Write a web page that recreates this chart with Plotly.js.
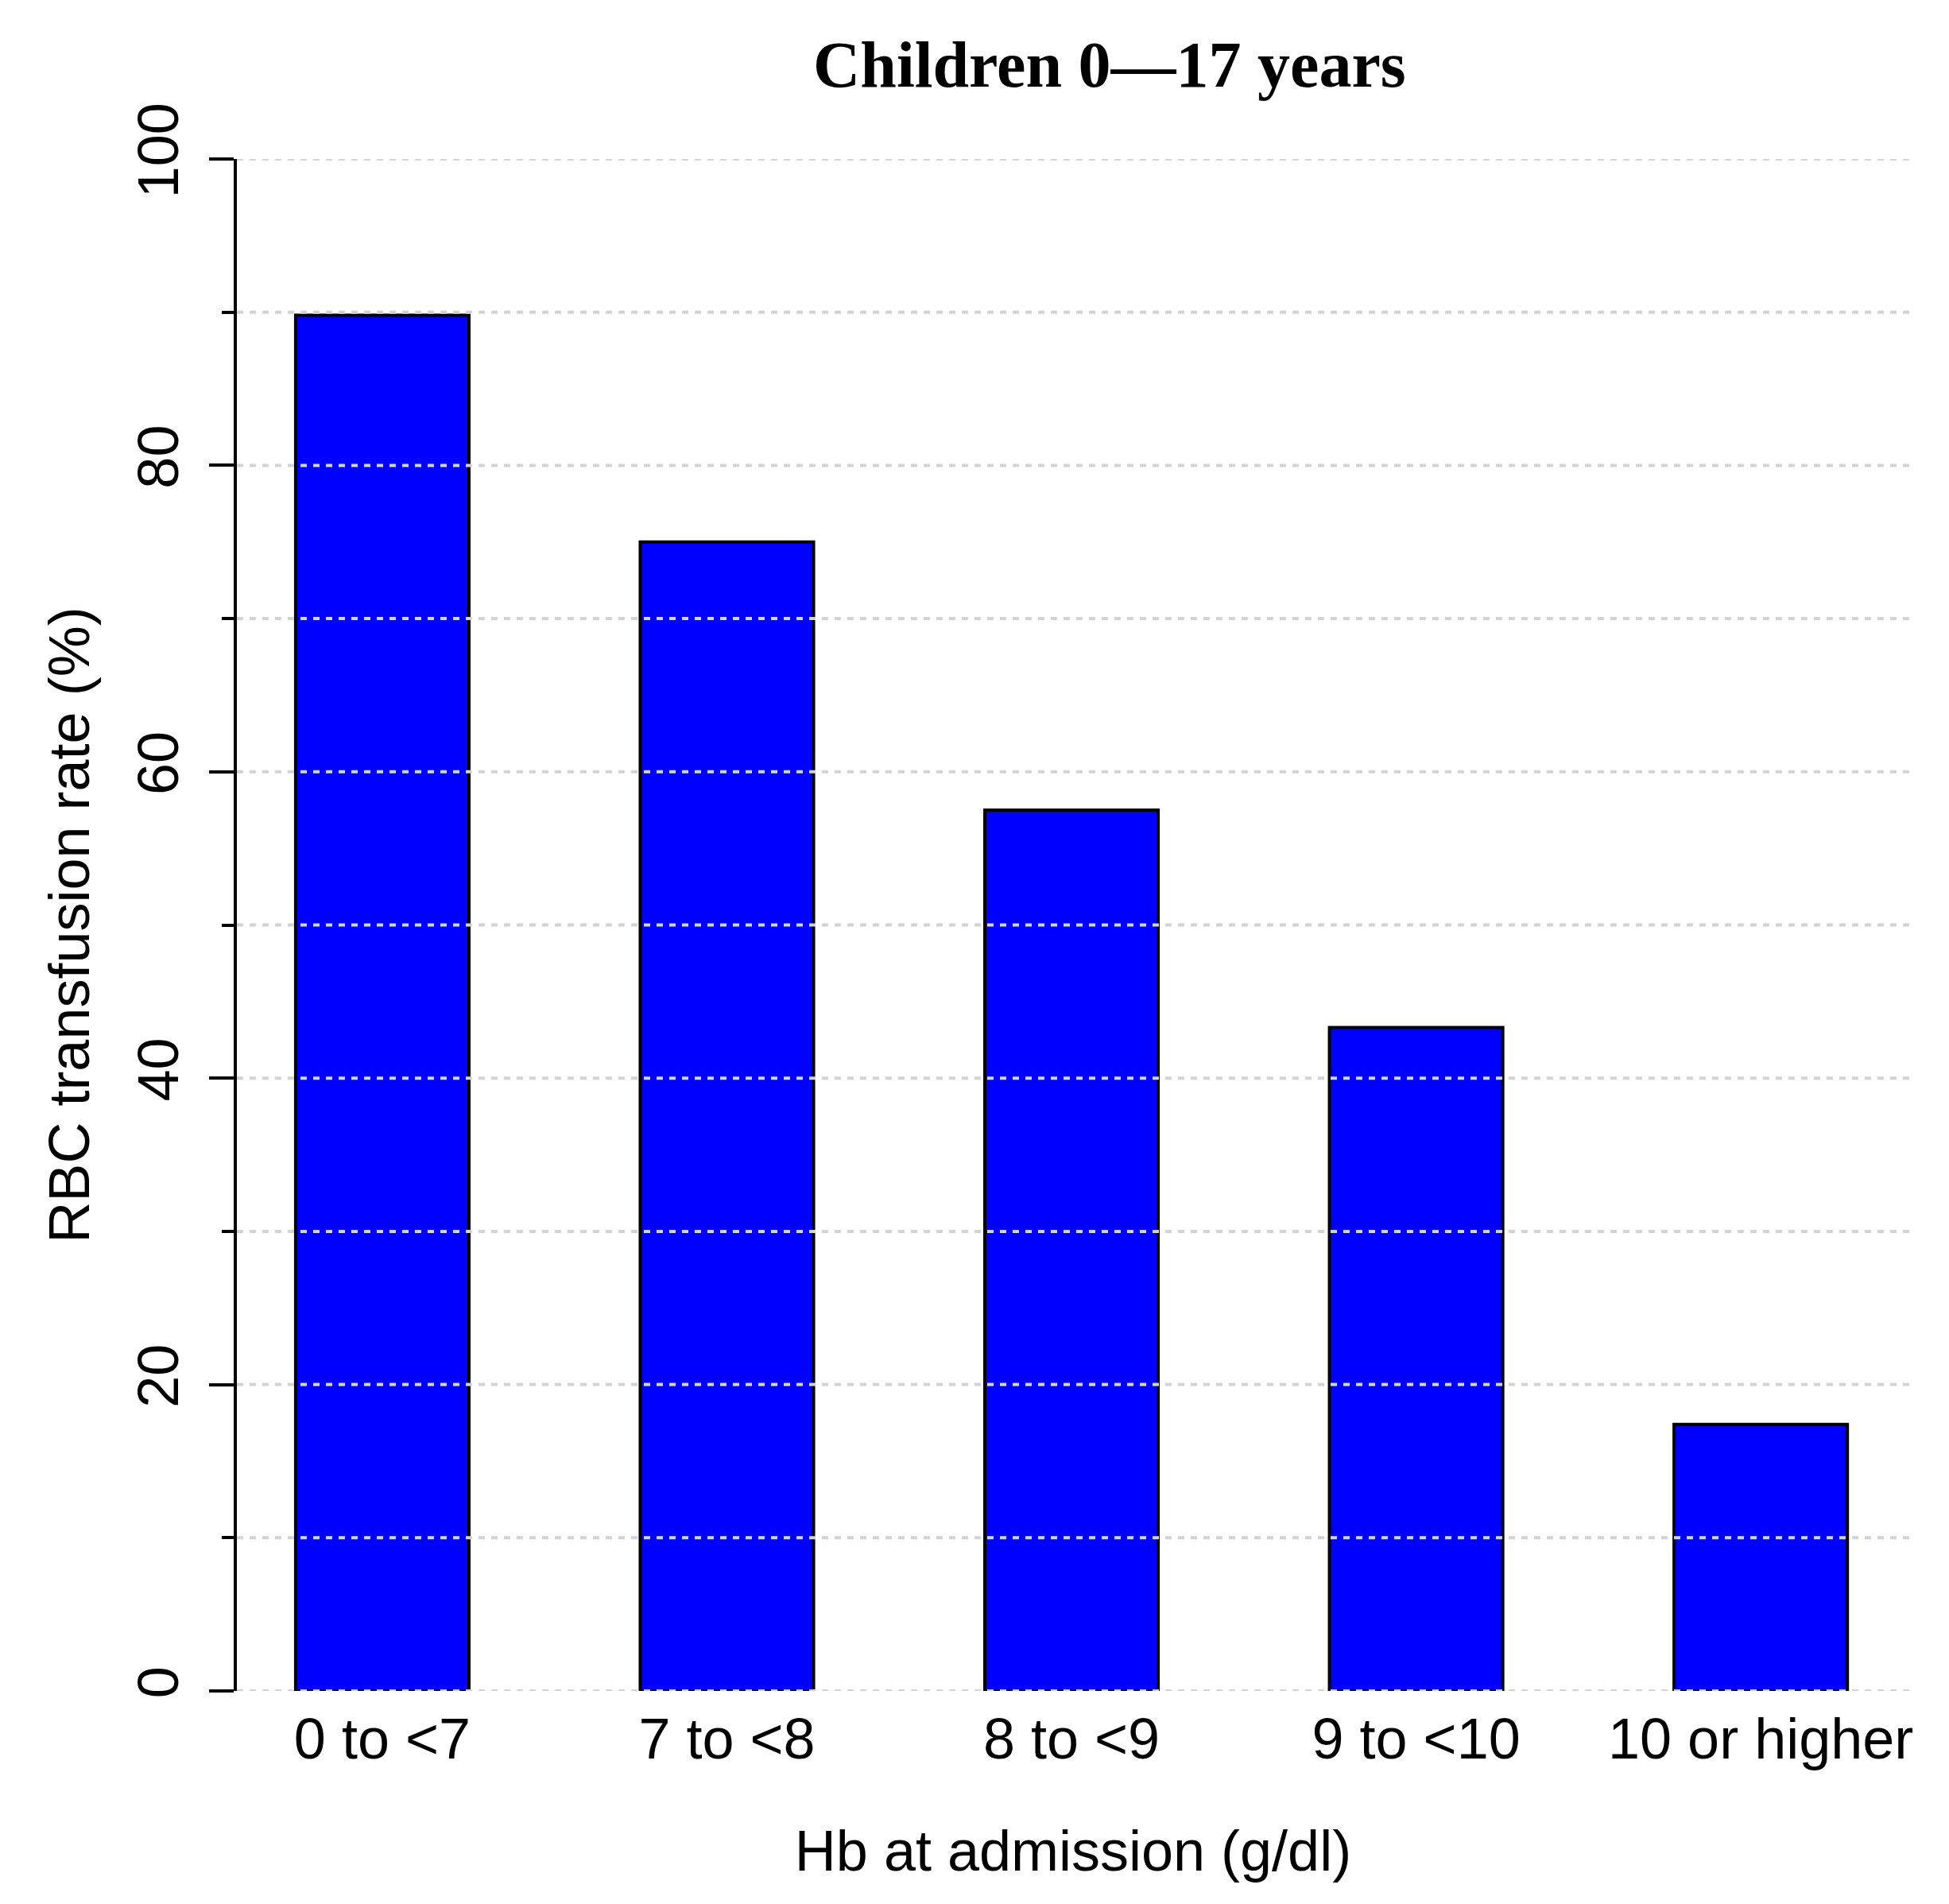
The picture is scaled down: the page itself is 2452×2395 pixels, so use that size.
<!DOCTYPE html>
<html>
<head>
<meta charset="utf-8">
<script src="https://cdn.plot.ly/plotly-3.1.0.min.js"></script>
<style>
  html, body { margin: 0; padding: 0; background: #fff; }
  #chart { width: 2452px; height: 2395px; }
</style>
</head>
<body>
<div id="chart"></div>
<script>
// Hb groups at admission and share of children transfused
const hbGroups = ["0 to <7", "7 to <8", "8 to <9", "9 to <10", "10 or higher"];
const transfusionRate = [89.8, 75.0, 57.5, 43.3, 17.4];
const gridLevels = [0, 10, 20, 30, 40, 50, 60, 70, 80, 90, 100];

const sans = "Liberation Sans, Arial, sans-serif";

const trace = {
  type: "bar",
  x: hbGroups,
  y: transfusionRate,
  marker: { color: "#0000ff", line: { color: "#000000", width: 4 } },
  hoverinfo: "skip"
};

// the grid is drawn on top of the bars, like abline() after barplot()
const gridShapes = gridLevels.map(v => ({
  type: "line", layer: "above",
  xref: "paper", x0: 0, x1: 1,
  yref: "y", y0: v, y1: v,
  line: { color: "#d3d3d3", width: 4, dash: "8px,8px" }
}));

const layout = {
  width: 2452,
  height: 2395,
  margin: { l: 298, r: 50, t: 200, b: 268 },
  paper_bgcolor: "#ffffff",
  plot_bgcolor: "#ffffff",
  showlegend: false,
  bargap: 0.497,
  font: { family: sans, size: 72, color: "#000000" },
  shapes: gridShapes,
  title: {
    text: "Children 0\u201417 years",
    font: { family: "Liberation Serif, Times New Roman, serif", size: 82, weight: 700, color: "#000000" },
    xref: "container", x: 0.5693, xanchor: "center",
    yref: "container", y: 0.9664, yanchor: "middle"
  },
  xaxis: {
    type: "category",
    range: [-0.422, 4.431],
    showline: false,
    zeroline: false,
    showgrid: false,
    ticks: "",
    ticklabelstandoff: 12,
    tickfont: { family: sans, size: 72 },
    automargin: false,
    title: { text: "Hb at admission (g/dl)", font: { family: sans, size: 72 }, standoff: 76 }
  },
  yaxis: {
    range: [0, 100],
    tick0: 0,
    dtick: 20,
    ticks: "outside",
    ticklen: 31,
    tickwidth: 4,
    tickcolor: "#000000",
    tickangle: -90,
    ticklabelstandoff: 10,
    tickfont: { family: sans, size: 72 },
    showline: true,
    linecolor: "#000000",
    linewidth: 4,
    zeroline: false,
    showgrid: false,
    layer: "above traces",
    automargin: false,
    minor: { tick0: 0, dtick: 10, ticks: "outside", ticklen: 15, tickwidth: 4, tickcolor: "#000000", showgrid: false },
    title: { text: "RBC transfusion rate (%)", font: { family: sans, size: 72 }, standoff: 24 }
  }
};

Plotly.newPlot("chart", [trace], layout, { staticPlot: true, displayModeBar: false });
</script>
</body>
</html>
